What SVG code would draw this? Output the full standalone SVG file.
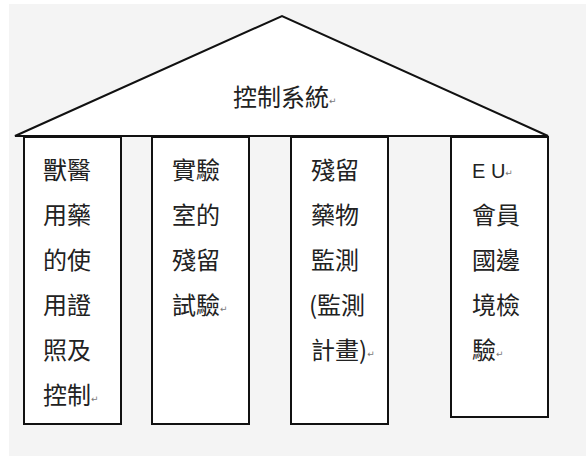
<svg xmlns="http://www.w3.org/2000/svg" width="586" height="456" viewBox="0 0 586 456">
<style>
.shape{fill:#ffffff;stroke:#111111;stroke-width:2;stroke-linejoin:miter}
.t{font-family:"Microsoft JhengHei","Noto Sans CJK TC",sans-serif;font-size:24px;fill:#222222}
.title{font-family:"Microsoft JhengHei","Noto Sans CJK TC",sans-serif;font-size:24px;fill:#222222}
.pm{font-family:"DejaVu Sans",sans-serif;font-size:9px;fill:#777777}
</style>
<rect x="0" y="0" width="586" height="456" fill="#ffffff"/>
<rect x="9" y="4" width="577" height="452" fill="#f4f4f4"/>
<g id="connectors"></g>
<g id="roof">
<polygon class="shape" points="15,136 282,16 548,136"/>
<text class="title" x="233" y="106">控制系統<tspan class="pm" dy="-2">↵</tspan></text>
</g>
<g id="pillar1">
<rect class="shape" x="24" y="137" width="97" height="287"/>
<text class="t" x="43" y="179">獸醫</text>
<text class="t" x="43" y="224">用藥</text>
<text class="t" x="43" y="269">的使</text>
<text class="t" x="43" y="314">用證</text>
<text class="t" x="43" y="359">照及</text>
<text class="t" x="43" y="404">控制<tspan class="pm" dy="-2">↵</tspan></text>
</g>
<g id="pillar2">
<rect class="shape" x="152" y="137" width="97" height="287"/>
<text class="t" x="172" y="179">實驗</text>
<text class="t" x="172" y="224">室的</text>
<text class="t" x="172" y="269">殘留</text>
<text class="t" x="172" y="314">試驗<tspan class="pm" dy="-2">↵</tspan></text>
</g>
<g id="pillar3">
<rect class="shape" x="291" y="137" width="97" height="287"/>
<text class="t" x="311" y="179">殘留</text>
<text class="t" x="311" y="224">藥物</text>
<text class="t" x="311" y="269">監測</text>
<text class="t" x="309" y="314">(監測</text>
<text class="t" x="311" y="359">計畫)<tspan class="pm" dy="-2">↵</tspan></text>
</g>
<g id="pillar4">
<rect class="shape" x="451" y="137" width="97" height="280"/>
<text class="t" x="472" y="178" style="font-family:'Liberation Sans',sans-serif;font-size:20px">E U<tspan class="pm" dy="-2">↵</tspan></text>
<text class="t" x="472" y="224">會員</text>
<text class="t" x="472" y="269">國邊</text>
<text class="t" x="472" y="314">境檢</text>
<text class="t" x="472" y="359">驗<tspan class="pm" dy="-2">↵</tspan></text>
</g>
</svg>
